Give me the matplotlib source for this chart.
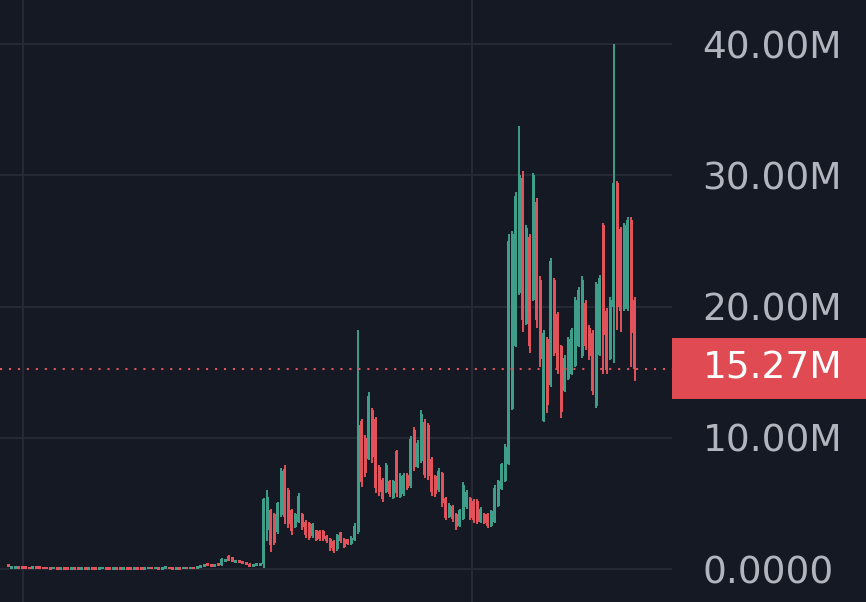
import matplotlib
matplotlib.use("Agg")
import matplotlib.pyplot as plt
from matplotlib.patches import Rectangle

# ---- data (values in millions) ----
opens = [0.27,0.09,0.13,0.14,0.11,0.10,0.09,0.07,0.12,0.10,
         0.09,0.10,0.08,0.06,0.09,0.05,0.08,0.07,0.04,0.07,
         0.06,0.04,0.07,0.05,0.08,0.06,0.04,0.07,0.08,0.06,
         0.04,0.08,0.06,0.05,0.08,0.06,0.05,0.08,0.07,0.05,
         0.07,0.09,0.06,0.08,0.05,0.08,0.09,0.07,0.05,0.08,
         0.06,0.09,0.07,0.09,0.07,0.10,0.26,0.34,0.30,0.26,
         0.34,0.28,0.55,1.00,0.88,0.45,0.64,0.58,0.48,0.38,
         0.18,0.24,0.30,0.40,3.00,4.50,4.20,2.80,4.10,7.60,
         6.00,4.50,3.20,3.60,4.20,3.60,3.50,2.50,3.00,2.90,
         2.90,2.50,2.30,2.10,1.50,2.80,2.30,2.30,1.90,2.20,
         2.80,11.30,10.00,8.40,12.10,11.40,7.80,6.80,5.90,6.70,
         5.40,9.00,5.50,5.70,7.20,6.30,10.60,7.80,8.20,11.20,
         11.00,8.40,7.10,6.00,7.30,5.40,4.00,4.80,4.20,3.30,
         3.80,4.70,5.40,5.20,5.20,3.60,4.20,4.20,3.30,3.60,
         4.80,6.10,6.70,8.00,12.20,17.00,21.00,29.80,18.70,25.30,
         20.50,28.00,22.00,11.30,17.50,14.00,22.00,19.40,17.00,13.60,
         14.50,14.90,15.50,17.00,16.20,20.30,18.40,18.00,12.40,16.30,
         26.20,19.70,16.00,20.00,29.40,25.90,19.80,19.80,26.60,20.50]
highs = [0.30,0.14,0.16,0.15,0.13,0.12,0.12,0.13,0.13,0.12,
         0.12,0.12,0.11,0.10,0.11,0.09,0.10,0.09,0.08,0.09,
         0.09,0.08,0.09,0.09,0.10,0.09,0.08,0.09,0.09,0.09,
         0.09,0.10,0.09,0.09,0.10,0.09,0.09,0.10,0.10,0.09,
         0.10,0.11,0.10,0.10,0.09,0.10,0.11,0.10,0.09,0.10,
         0.10,0.11,0.10,0.11,0.11,0.30,0.36,0.37,0.33,0.36,
         0.36,0.85,0.80,1.08,0.92,0.68,0.68,0.62,0.52,0.42,
         0.38,0.42,0.48,5.40,6.00,4.60,4.30,5.10,7.70,7.90,
         6.20,4.60,4.30,5.80,4.30,3.70,3.60,3.50,3.00,3.00,
         3.00,2.60,2.40,2.20,2.70,2.80,2.40,2.30,2.50,3.50,
         18.20,11.40,10.20,13.50,12.30,11.60,7.90,6.90,8.10,6.80,
         6.80,9.10,7.30,7.30,7.30,10.10,10.80,9.80,12.10,11.40,
         11.10,8.50,7.20,7.70,7.40,5.50,5.00,4.90,4.30,4.60,
         6.60,6.00,5.50,5.30,5.30,4.70,4.30,4.30,4.50,6.40,
         6.80,8.10,9.50,25.50,25.80,28.70,33.80,30.30,26.20,25.50,
         30.20,28.30,22.30,18.20,17.70,23.70,22.20,19.60,17.10,16.30,
         17.70,18.40,20.70,21.50,22.30,20.50,18.60,18.20,21.90,22.40,
         26.40,19.90,20.70,40.00,29.60,26.10,26.40,26.80,26.80,20.70]
lows = [0.20,0.07,0.10,0.07,0.06,0.05,0.05,0.06,0.06,0.05,
        0.05,0.04,0.04,0.04,0.03,0.03,0.03,0.03,0.03,0.03,
        0.03,0.02,0.03,0.03,0.03,0.02,0.02,0.03,0.03,0.02,
        0.03,0.03,0.03,0.03,0.04,0.03,0.03,0.03,0.04,0.03,
        0.04,0.04,0.04,0.04,0.03,0.04,0.04,0.04,0.03,0.04,
        0.04,0.05,0.04,0.05,0.05,0.08,0.22,0.25,0.24,0.24,
        0.26,0.26,0.50,0.58,0.52,0.42,0.44,0.38,0.28,0.18,
        0.15,0.22,0.28,0.10,2.10,1.30,1.80,2.70,4.00,3.40,
        3.10,2.60,3.10,3.50,3.00,2.40,2.20,2.40,2.10,2.10,
        2.10,2.00,1.40,1.20,1.40,2.00,1.60,1.80,1.80,2.10,
        2.70,6.25,7.00,8.30,8.10,5.80,5.60,5.10,5.80,5.50,
        5.30,5.50,5.40,5.60,6.00,6.20,7.50,7.70,8.10,6.90,
        6.80,5.60,5.50,5.90,4.70,3.70,3.90,3.60,3.00,3.20,
        3.70,4.60,3.70,3.50,3.40,3.50,3.40,3.10,3.20,3.50,
        4.70,6.00,6.60,7.90,12.10,16.90,20.90,18.10,18.60,16.50,
        20.40,18.40,15.40,11.20,11.90,13.90,16.20,14.90,11.50,13.50,
        14.40,14.80,15.40,16.90,16.10,16.70,15.90,13.30,12.30,16.20,
        14.90,14.90,15.90,15.70,18.20,18.10,19.70,19.70,15.40,14.30]
closes = [0.22,0.13,0.15,0.09,0.08,0.07,0.07,0.12,0.08,0.07,
          0.07,0.06,0.06,0.09,0.05,0.08,0.05,0.04,0.07,0.05,
          0.04,0.07,0.05,0.08,0.05,0.04,0.07,0.08,0.05,0.04,
          0.08,0.05,0.04,0.08,0.05,0.04,0.08,0.06,0.05,0.08,
          0.09,0.06,0.09,0.05,0.08,0.09,0.06,0.05,0.08,0.06,
          0.09,0.07,0.09,0.07,0.10,0.28,0.33,0.28,0.26,0.34,
          0.28,0.78,0.74,0.62,0.56,0.64,0.46,0.40,0.30,0.20,
          0.35,0.40,0.45,5.30,5.50,1.80,2.00,5.00,7.50,4.00,
          3.40,2.90,4.20,5.60,3.20,2.60,2.40,3.40,2.20,2.30,
          2.30,2.10,1.60,1.40,2.60,2.10,1.70,1.90,2.40,3.30,
          11.00,6.60,7.30,13.20,8.50,6.20,5.90,5.30,7.90,5.70,
          6.70,5.80,7.10,7.20,6.20,9.90,7.80,9.60,11.80,7.20,
          7.10,5.90,5.70,7.50,5.00,3.90,4.90,3.80,3.20,4.50,
          6.40,5.90,3.90,3.70,3.60,4.60,3.50,3.30,4.40,6.20,
          6.70,8.00,9.30,25.00,25.50,28.40,30.00,19.00,26.00,17.00,
          30.00,19.00,16.00,18.00,12.50,23.50,16.50,15.20,12.00,16.10,
          17.50,18.20,20.50,21.30,22.00,17.00,16.20,13.60,21.70,22.20,
          17.80,15.20,20.50,29.40,20.00,19.70,26.20,26.60,18.00,15.27]

y_ticks = [0, 10, 20, 30, 40]
y_tick_labels = ["0.0000", "10.00M", "20.00M", "30.00M", "40.00M"]
last_price = 15.27
last_label = "15.27M"
time_grid_idx = [4.3, 132.5]

# ---- style ----
BG = "#151924"
GRID = "#272b36"
UP = "#3f9e89"
DOWN = "#e2525a"
LABEL = "#b2b5bd"
BOX = "#e04a52"

W, H = 866, 602
fig = plt.figure(figsize=(W / 100, H / 100), dpi=100, facecolor=BG)
ax = fig.add_axes([0, 0, 672 / W, 1])
ax.set_facecolor(BG)

n = len(closes)
xs = list(range(n))
for i in xs:
    o, h, l, c = opens[i], highs[i], lows[i], closes[i]
    col = UP if c >= o else DOWN
    ax.vlines(i, l, h, color=col, linewidth=1.4, zorder=3)
    bot = min(o, c)
    ht = abs(c - o)
    if ht < 0.22:
        bot = (o + c) / 2 - 0.11
        ht = 0.22
    ax.bar(i, ht, bottom=bot, width=0.86, color=col, linewidth=0, zorder=3)

ax.set_xlim(-2.29, 189.7)
ax.set_ylim(-2.515, 43.37)

for yv in y_ticks:
    ax.axhline(yv, color=GRID, linewidth=1.3, zorder=1)
for xv in time_grid_idx:
    ax.axvline(xv, color=GRID, linewidth=1.3, zorder=1)

ax.axhline(last_price, color=DOWN, linewidth=1.5, linestyle=(0, (1, 3.3)), zorder=4)

for s in ax.spines.values():
    s.set_visible(False)
ax.set_xticks([])
ax.yaxis.tick_right()
ax.set_yticks(y_ticks)
ax.set_yticklabels(y_tick_labels)
ax.tick_params(axis="y", length=0, pad=22, labelsize=27, labelcolor=LABEL)
for t in ax.get_yticklabels():
    t.set_fontfamily("DejaVu Sans")

# last price box
fig.patches.append(Rectangle((672 / W, (H - 399) / H), 1 - 672 / W, 61 / H,
                             transform=fig.transFigure, facecolor=BOX,
                             edgecolor="none", zorder=5))
fig.text(703 / W, (H - 368.5) / H, last_label, ha="left", va="center",
         fontsize=27, color="white", family="DejaVu Sans", zorder=6)

fig.savefig("out.png", dpi=100, facecolor=BG)
